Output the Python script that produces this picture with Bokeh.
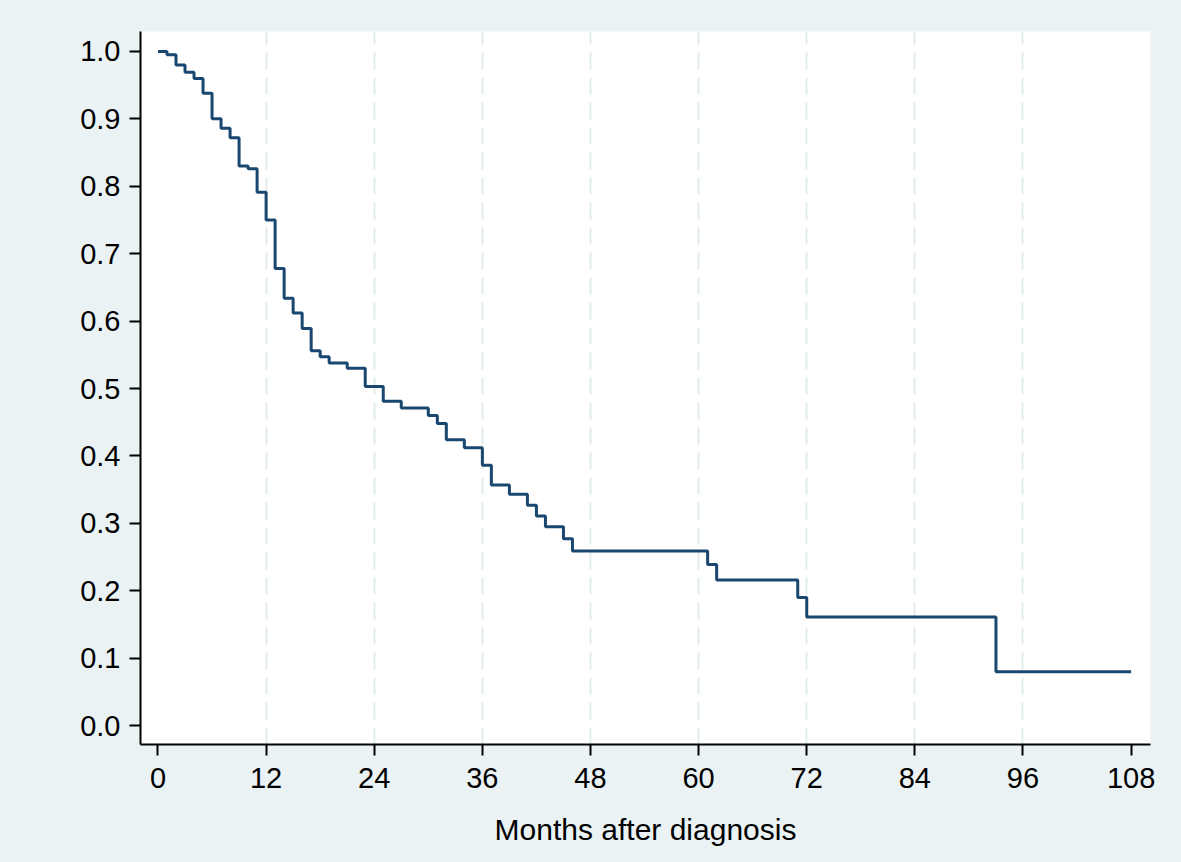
from bokeh.plotting import figure
from bokeh.models import FixedTicker, Range1d
from bokeh.embed import file_html
from bokeh.resources import INLINE

# Kaplan-Meier survival estimate (step function): event times (months) and survival after each time
times = [0, 1, 2, 3, 4, 5, 6, 7, 8, 9, 10, 11, 12, 13, 14, 15, 16, 17, 18, 19, 21, 23, 25, 27,
         30, 31, 32, 34, 36, 37, 39, 41, 42, 43, 45, 46, 61, 62, 71, 72, 93, 108]
survival = [1.0, 0.995, 0.980, 0.969, 0.960, 0.938, 0.900, 0.886, 0.872, 0.830, 0.826, 0.791,
            0.750, 0.678, 0.634, 0.612, 0.589, 0.556, 0.547, 0.538, 0.530, 0.503, 0.481, 0.471,
            0.460, 0.448, 0.424, 0.412, 0.386, 0.357, 0.343, 0.327, 0.311, 0.295, 0.277, 0.259,
            0.239, 0.216, 0.190, 0.161, 0.080, 0.080]

x_ticks = [0, 12, 24, 36, 48, 60, 72, 84, 96, 108]
x_grid = [12, 24, 36, 48, 60, 72, 84, 96]
y_ticks = [0.0, 0.1, 0.2, 0.3, 0.4, 0.5, 0.6, 0.7, 0.8, 0.9, 1.0]
x_title = "Months after diagnosis"

BG = "#eaf2f3"
NAVY = "#1a476f"
FONT = "Liberation Sans"

p = figure(width=1181, height=862, output_backend="svg", toolbar_location=None,
           x_range=Range1d(-1.94, 110.15), y_range=Range1d(-0.0281, 1.0296),
           min_border_left=140, min_border_right=31, min_border_top=31, min_border_bottom=118)
p.background_fill_color = "white"
p.border_fill_color = BG
p.outline_line_color = None

p.step(times, survival, mode="after", line_color=NAVY, line_width=3)

# grid
p.ygrid.visible = False
p.xgrid.ticker = FixedTicker(ticks=x_grid)
p.xgrid.grid_line_color = "#e2ecec"
p.xgrid.grid_line_width = 2
p.xgrid.grid_line_dash = "17 8"

for ax in (p.xaxis[0], p.yaxis[0]):
    ax.axis_line_color = "black"
    ax.axis_line_width = 2
    ax.major_tick_line_color = "black"
    ax.major_tick_line_width = 2
    ax.major_tick_out = 11
    ax.major_tick_in = 0
    ax.minor_tick_line_color = None
    ax.major_label_text_font = FONT
    ax.major_label_text_font_size = "29px"
    ax.major_label_text_color = "black"

p.xaxis.ticker = FixedTicker(ticks=x_ticks)
p.xaxis.major_label_overrides = {t: str(t) for t in x_ticks}
p.xaxis.major_label_standoff = 12
p.xaxis.axis_label = x_title
p.xaxis.axis_label_text_font = FONT
p.xaxis.axis_label_text_font_size = "30px"
p.xaxis.axis_label_text_font_style = "normal"
p.xaxis.axis_label_text_color = "black"
p.xaxis.axis_label_standoff = 22

p.yaxis.ticker = FixedTicker(ticks=y_ticks)
p.yaxis.major_label_overrides = {t: f"{t:.1f}" for t in y_ticks}
p.yaxis.major_label_standoff = 9

html = file_html(p, INLINE)
html = html.replace("<head>", "<head><style>html,body{background:%s;margin:0;padding:0;}</style>" % BG, 1)
open("out.html", "w").write(html)
